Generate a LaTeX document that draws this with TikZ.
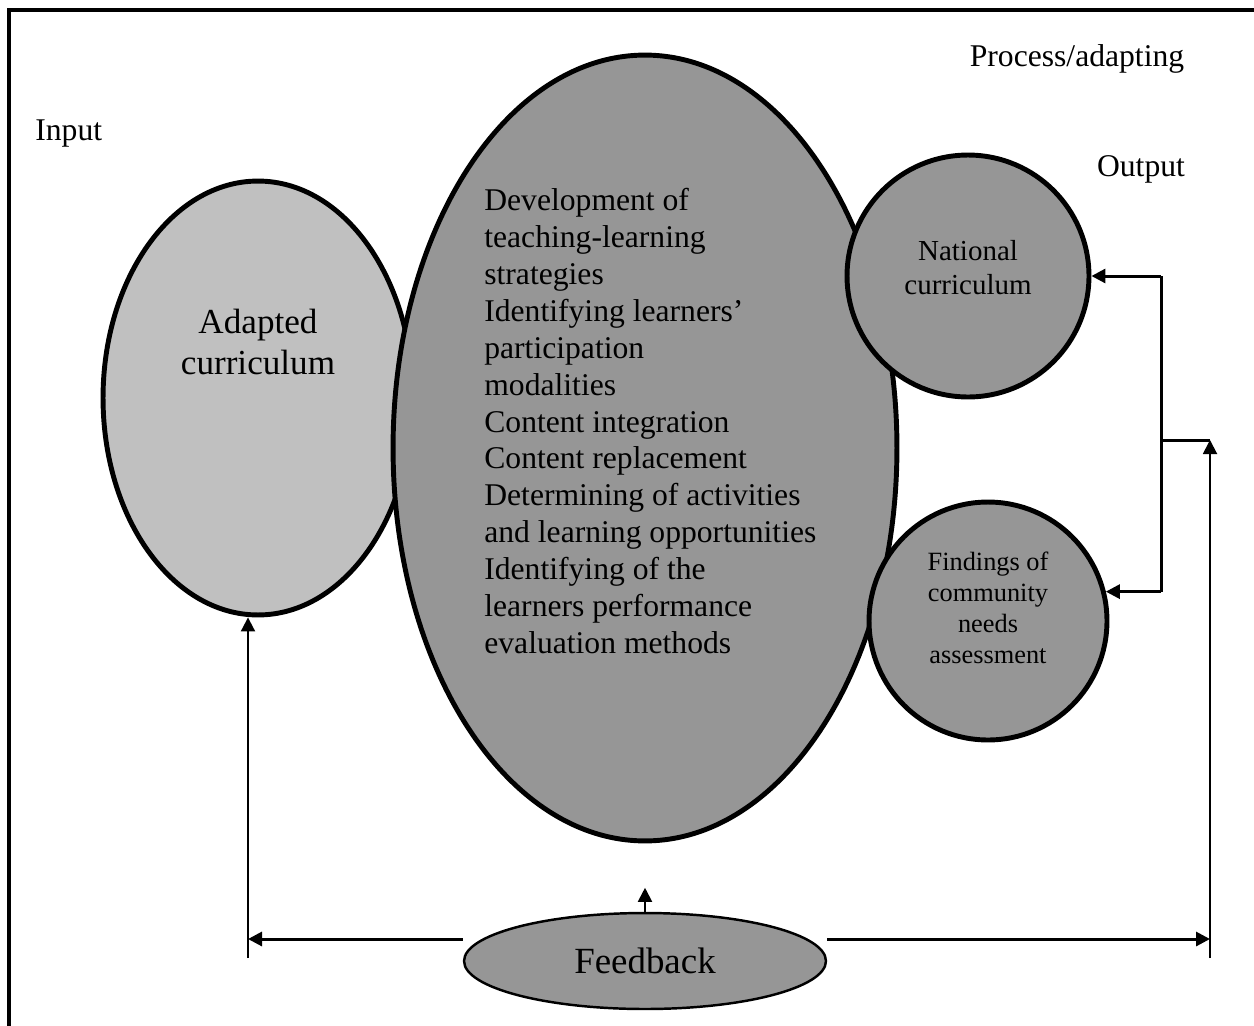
\documentclass[tikz,border=0pt]{standalone}
\usepackage{fontspec}
\setmainfont{Liberation Serif}
\usepackage{xcolor}
\usetikzlibrary{arrows.meta,shapes.geometric}

\definecolor{midgray}{RGB}{150,150,150}
\definecolor{palegray}{RGB}{192,192,192}

\begin{document}
\begin{tikzpicture}[x=0.02cm,y=-0.02cm,
  blob/.style={ellipse,draw,line width=2.8pt,fill=midgray,inner sep=0pt},
  bubble/.style={circle,draw,line width=2.8pt,fill=midgray,inner sep=0pt},
  words/.style={inner sep=0pt,align=center},
  link/.style={line width=1.7pt},
  thin link/.style={line width=1.1pt},
  tip/.style={-{Triangle[length=0.28cm,width=0.28cm]}}]
\useasboundingbox (0,0) rectangle (1254,1025);
\draw[line width=2pt] (9,10) rectangle (1275,1050);

% the two big ellipses
\node[blob,fill=palegray,minimum width=6.2cm,minimum height=8.68cm] (adapted) at (258,398) {};
\node[blob,minimum width=10.08cm,minimum height=15.72cm] (process) at (645,448) {};
\node[words,font=\fontsize{20}{23}\selectfont] (adaptedtxt) at (258,342) {Adapted\\curriculum};
\node[words,align=left,anchor=north west,font=\fontsize{18}{21}\selectfont] (steps) at (484,188)
  {Development of\\teaching-learning\\strategies\\Identifying learners’\\participation\\modalities\\
   Content integration\\Content replacement\\Determining of activities\\and learning opportunities\\
   Identifying of the\\learners performance\\evaluation methods};

% sources on the right
\node[bubble,minimum size=4.84cm] (national) at (968,276) {};
\node[words,font=\fontsize{16.5}{19.3}\selectfont] (nationaltxt) at (968,268) {National\\curriculum};
\node[bubble,minimum size=4.76cm] (findings) at (988,621) {};
\node[words,font=\fontsize{15}{17.6}\selectfont] (findingstxt) at (988,608)
  {Findings of\\community\\needs\\assessment};

\node[ellipse,draw,line width=1.4pt,fill=midgray,inner sep=0pt,
  minimum width=7.24cm,minimum height=1.92cm,font=\fontsize{21}{24}\selectfont] (feedback) at (645,961) {Feedback};

% headings
\node[inner sep=0pt,anchor=base west,font=\fontsize{18}{21}\selectfont] (input) at (35,140) {Input};
\node[inner sep=0pt,anchor=base,font=\fontsize{18}{21}\selectfont] (output) at (1141,176) {Output};
\node[inner sep=0pt,anchor=base,font=\fontsize{18}{21}\selectfont] (adapting) at (1077,66) {Process/adapting};

% feedback loop
\coordinate (fbleft) at (248,939);
\coordinate (fbright) at (1210,939);
\coordinate (lbot) at (248,958);
\coordinate (rbot) at (1210,958);
\coordinate (rtop) at (1210,440);
\coordinate (split) at (1161,440);

\draw[link,tip] (feedback.west |- fbleft) -- (fbleft);
\draw[link,tip] (feedback.east |- fbright) -- (fbright);
\draw[thin link,tip] (lbot) -- (lbot |- adapted.south);
\draw[thin link,tip] (rbot) -- (rtop);
\draw[thin link,tip] (feedback.north) -- ++(0,-24);
\draw[link] (split) -- (rtop);
\draw[link] (split |- national.east) -- (split |- findings.14);
\draw[link,tip] (split |- national.east) -- (national.east);
\draw[link,tip] (split |- findings.14) -- (findings.14);
\end{tikzpicture}
\end{document}
